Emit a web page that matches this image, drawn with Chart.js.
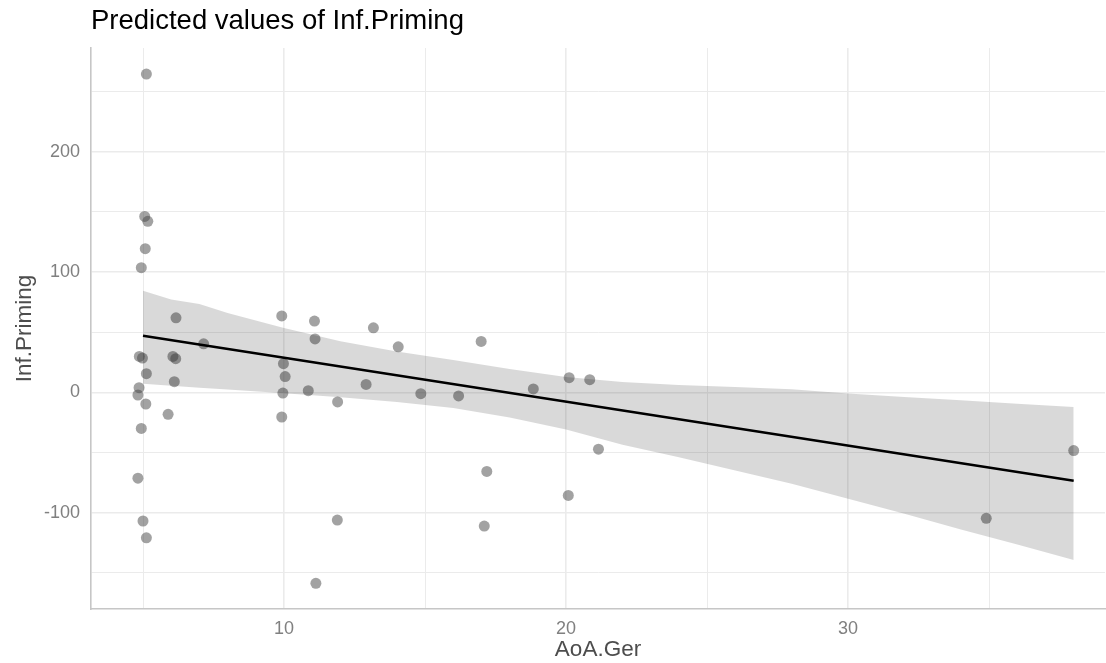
<!DOCTYPE html>
<html>
<head>
<meta charset="utf-8">
<title>Predicted values of Inf.Priming</title>
<script src="https://cdn.jsdelivr.net/npm/chart.js@4"></script>
<style>
  html, body { margin: 0; padding: 0; background: #fff; }
  #wrap { width: 1106px; height: 663px; }
</style>
</head>
<body>
<div id="wrap"><canvas id="plot" width="1106" height="663"></canvas></div>
<script>
// raw observations (AoA.Ger, Inf.Priming)
const obsX = [5.12, 5.06, 5.17, 5.08, 4.94, 6.17, 7.15, 4.87, 4.98, 6.06, 6.16, 5.12, 6.11, 4.86, 4.82, 5.10,
    5.89, 4.94, 4.82, 5.00, 5.12, 9.92, 11.08, 11.10, 9.98, 10.04, 9.96, 10.86, 9.92, 11.13, 11.89, 13.17,
    14.05, 16.99, 12.91, 11.90, 14.85, 16.19, 18.84, 20.11, 20.84, 21.15, 17.19, 20.08, 17.10, 38.0, 34.9];
const obsY = [264.7, 146.3, 142.2, 119.5, 103.7, 62, 40.4, 29.9, 28.5, 29.9, 28, 15.5, 8.9, 3.9, -2.2, -9.7,
    -18.3, -30, -71.4, -107, -121, 63.6, 59.3, 44.4, 23.8, 13.1, -0.6, 1.4, -20.5, -158.8, -106.2, 53.7,
    37.9, 42.3, 6.6, -8, -1.1, -3, 2.8, 12.2, 10.5, -47.3, -65.8, -85.7, -111.2, -48.4, -104.8];

// predicted line
const fitX = [5, 38];
const fitY = [47, -73.6];

// confidence band
const bandX = [5, 6, 7, 8, 10, 12, 14, 16, 18, 20, 22, 24, 26, 28, 30, 32, 34, 36, 38];
const bandHi = [84.6, 77.3, 73.4, 66, 53.5, 42.5, 34, 27, 19.5, 12.8, 8.5, 6.2, 4.5, 2.5, -1, -3.8, -6.6, -9.4, -12.2];
const bandLo = [7.2, 5.5, 3.9, 2.4, -0.7, -4, -8, -13, -21, -31, -43.5, -54, -65, -76, -88.5, -101, -114, -126.5, -139.4];

// labelled ticks
const xLabels = [10, 20, 30];
const yLabels = [-100, 0, 100, 200];

const pairs = (xs, ys) => xs.map((x, i) => ({ x: x, y: ys[i] }));

const FONT = '"Liberation Sans", Arial, Helvetica, sans-serif';
const gridW = (labels) => (c) => labels.includes(c.tick.value) ? 1.6 : 1;

new Chart(document.getElementById('plot').getContext('2d'), {
    type: 'scatter',
    data: {
        datasets: [
            {
                type: 'line',
                data: pairs(fitX, fitY),
                borderColor: '#000',
                borderWidth: 2.6,
                pointRadius: 0,
                fill: false,
                order: 0
            },
            {
                type: 'line',
                data: pairs(bandX, bandHi),
                borderWidth: 0,
                borderColor: 'rgba(0,0,0,0)',
                backgroundColor: 'rgba(0,0,0,0.15)',
                pointRadius: 0,
                fill: '+1',
                order: 1
            },
            {
                type: 'line',
                data: pairs(bandX, bandLo),
                borderWidth: 0,
                borderColor: 'rgba(0,0,0,0)',
                pointRadius: 0,
                fill: false,
                order: 2
            },
            {
                data: pairs(obsX, obsY),
                backgroundColor: 'rgba(70,70,70,0.5)',
                borderWidth: 0,
                pointRadius: 5.5,
                order: 3
            }
        ]
    },
    options: {
        responsive: false,
        animation: false,
        events: [],
        layout: { autoPadding: false, padding: { left: 0, right: 1, top: 0, bottom: 0 } },
        plugins: {
            legend: { display: false },
            tooltip: { enabled: false },
            title: {
                display: true,
                text: 'Predicted values of Inf.Priming',
                align: 'start',
                fullSize: false,
                color: '#000',
                font: { family: FONT, size: 27.5, weight: 'normal', lineHeight: 1.2 },
                padding: { top: 4.5, bottom: 10.5 }
            }
        },
        scales: {
            x: {
                type: 'linear',
                min: 3.156,
                max: 39.11,
                afterFit: (s) => { s.height = 54; s.paddingLeft = 0; s.paddingRight = 0; },
                border: { display: true, color: '#c6c6c6', width: 1.6 },
                grid: { color: '#ebebeb', lineWidth: gridW(xLabels), drawTicks: false },
                ticks: {
                    stepSize: 5,
                    includeBounds: false,
                    padding: 9,
                    color: '#808080',
                    font: { family: FONT, size: 18 },
                    callback: (v) => xLabels.includes(v) ? String(v) : ''
                },
                title: {
                    display: true,
                    text: 'AoA.Ger',
                    color: '#4d4d4d',
                    font: { family: FONT, size: 22.5, lineHeight: 1 },
                    padding: { top: 0, bottom: 1.75 }
                }
            },
            y: {
                type: 'linear',
                min: -180.2,
                max: 286.4,
                afterFit: (s) => { s.width = 91; },
                border: { display: true, color: '#c6c6c6', width: 1.6 },
                grid: { color: '#ebebeb', lineWidth: gridW(yLabels), drawTicks: false },
                ticks: {
                    stepSize: 50,
                    includeBounds: false,
                    padding: 11,
                    color: '#808080',
                    font: { family: FONT, size: 18 },
                    callback: (v) => yLabels.includes(v) ? String(v) : ''
                },
                title: {
                    display: true,
                    text: 'Inf.Priming',
                    color: '#4d4d4d',
                    font: { family: FONT, size: 22.5, lineHeight: 1 },
                    padding: { top: 14, bottom: 0 }
                }
            }
        }
    }
});
</script>
</body>
</html>
